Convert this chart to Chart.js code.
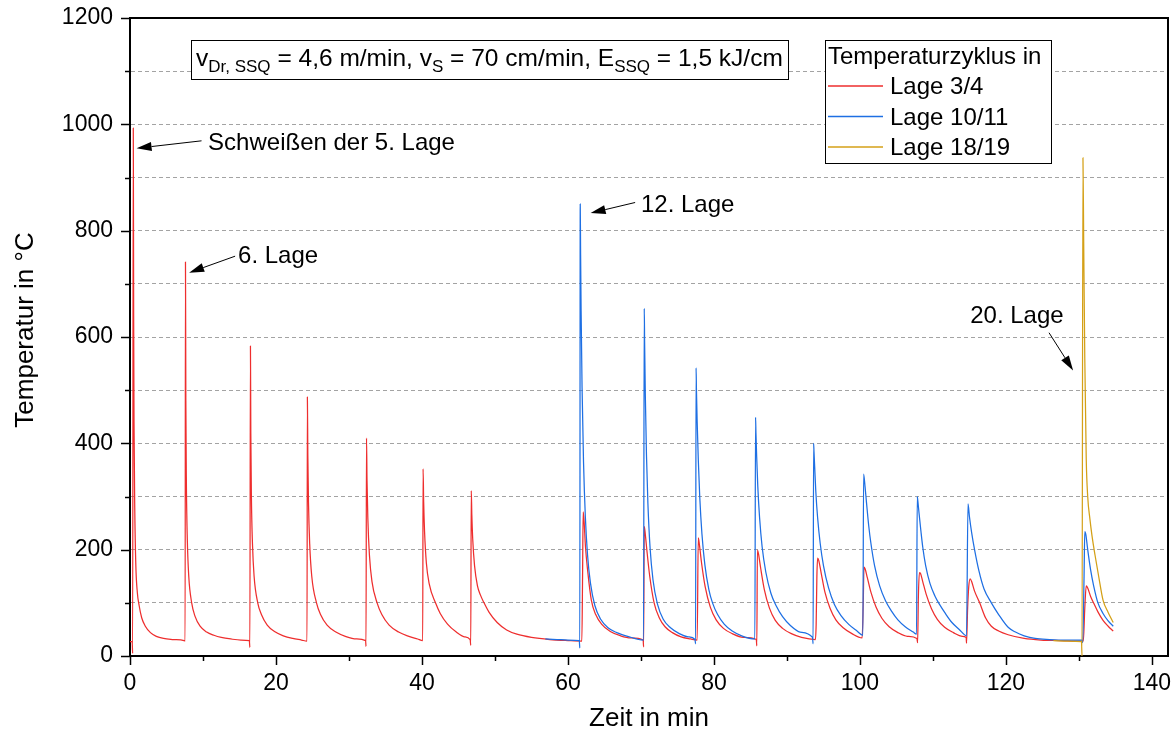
<!DOCTYPE html>
<html>
<head>
<meta charset="utf-8">
<script src="https://cdn.jsdelivr.net/npm/chart.js@4.4.1/dist/chart.umd.min.js"></script>
<style>
  body { margin: 0; background: #fff; }
  canvas { display: block; }
</style>
</head>
<body>
<canvas id="myChart" width="1175" height="740"></canvas>
<script>
const FONT = "'Liberation Sans', Arial, sans-serif";

// Lage 3/4 (rot)
const redTime = [0, 0.3, 0.36, 0.45, 0.5, 0.55, 0.65, 0.8, 1.0, 1.25, 1.6, 2.1, 2.8, 3.6, 4.6, 5.8, 7.4,
  7.55, 7.6, 7.65, 7.72, 7.85, 8.05, 8.45, 8.9, 9.6, 10.5, 11.5, 12.5, 13.8, 15.2, 16.35, 16.42,
  16.5, 16.55, 16.63, 16.78, 17.0, 17.5, 18.0, 18.8, 19.8, 21.0, 22.3, 23.5, 24.25,
  24.3, 24.36, 24.45, 24.62, 24.9, 25.55, 26.1, 27.0, 28.2, 29.5, 31.0, 32.28, 32.33,
  32.4, 32.47, 32.58, 32.8, 33.15, 33.85, 34.5, 35.5, 36.8, 38.2, 39.4, 40.1,
  40.15, 40.23, 40.35, 40.6, 41.0, 41.85, 42.5, 43.5, 44.7, 45.8, 46.6, 46.68,
  46.75, 46.83, 46.95, 47.2, 47.6, 48.0, 48.5, 49.2, 50.3, 51.6, 53.0, 55.0, 57.5, 60.0, 61.9,
  62.0, 62.08, 62.2, 62.4, 62.7, 63.2, 63.8, 64.6, 65.8, 67.2, 68.6, 70.3, 70.36,
  70.45, 70.6, 70.8, 71.2, 71.8, 72.5, 73.3, 74.3, 75.5, 76.8, 77.7,
  77.85, 78.0, 78.3, 78.8, 79.5, 80.3, 81.3, 82.5, 84.0, 85.8, 85.87,
  85.95, 86.1, 86.4, 86.9, 87.6, 88.4, 89.4, 90.6, 92.0, 93.9,
  94.0, 94.1, 94.2, 94.35, 94.7, 95.2, 95.9, 96.7, 97.7, 98.9, 100.3,
  100.45, 100.55, 100.7, 101.0, 101.5, 102.2, 103.0, 104.0, 105.2, 106.5, 107.8, 107.9,
  108.0, 108.15, 108.3, 108.6, 109.1, 109.8, 110.6, 111.6, 112.8, 114.0, 114.55, 114.6,
  114.75, 114.9, 115.1, 115.3, 115.7, 116.4, 117.2, 118.0, 119.0, 120.3, 122.5, 124.8, 127.5, 130.5,
  130.6, 130.8, 131.0, 131.2, 131.6, 132.0, 132.6, 133.3, 134.0, 134.7];
const redTemp = [27, 27, 5, 993, 640, 440, 280, 170, 120, 95, 72, 56, 44, 37, 33, 31, 29,
  28, 741, 480, 330, 220, 150, 100, 75, 56, 45, 39, 35, 32, 30, 29, 16,
  583, 420, 300, 210, 150, 100, 78, 58, 46, 38, 33, 30, 28,
  487, 380, 290, 210, 150, 100, 78, 58, 45, 37, 32, 29, 18,
  410, 330, 260, 190, 140, 100, 78, 58, 45, 37, 32, 29,
  352, 290, 235, 175, 135, 100, 80, 60, 45, 36, 31, 20,
  311, 265, 220, 170, 132, 115, 100, 82, 63, 49, 41, 35, 31, 29, 28,
  150, 271, 255, 205, 160, 105, 78, 60, 46, 38, 34, 30, 17,
  244, 228, 200, 150, 100, 72, 55, 44, 36, 32, 30,
  222, 210, 175, 130, 92, 68, 52, 42, 35, 31, 19,
  199, 192, 165, 125, 90, 67, 52, 42, 35, 31,
  60, 150, 184, 180, 155, 120, 90, 68, 53, 42, 34,
  100, 167, 164, 148, 120, 92, 71, 55, 44, 37, 33, 25,
  110, 157, 155, 140, 115, 89, 69, 54, 44, 37, 35, 24,
  90, 130, 145, 140, 122, 100, 72, 56, 47, 40, 33, 30, 29, 28,
  28, 90, 132, 128, 112, 100, 83, 67, 56, 47];

// Lage 10/11 (blau)
const blueTime = [56.9, 58.5, 60.0, 61.55, 61.62,
  61.68, 61.73, 61.8, 61.93, 62.13, 62.38, 62.68, 63.08, 63.68, 64.48, 65.48, 66.68, 68.18, 70.35,
  70.45, 70.5, 70.6, 70.75, 70.95, 71.25, 71.65, 72.25, 73.05, 74.05, 75.25, 76.45, 77.4, 77.48,
  77.55, 77.6, 77.7, 77.85, 78.05, 78.35, 78.75, 79.3, 79.8, 80.5, 81.4, 82.5, 83.8, 85.6,
  85.7, 85.75, 85.85, 86.0, 86.25, 86.6, 87.1, 87.8, 88.5, 89.4, 90.5, 91.8, 93.5, 93.58,
  93.65, 93.7, 93.8, 93.95, 94.2, 94.55, 95.0, 95.7, 96.5, 97.4, 98.5, 99.6, 100.4,
  100.5, 100.7, 100.9, 101.2, 101.5, 102.0, 102.7, 103.5, 104.3, 105.2, 106.2, 107.3, 107.75,
  107.85, 107.9, 108.1, 108.35, 108.6, 109.0, 109.6, 110.3, 110.9, 111.7, 112.6, 113.6, 114.6,
  114.8, 115.0, 115.3, 115.7, 116.3, 117.0, 118.0, 119.0, 120.3, 121.3, 122.5, 124.0, 126.0, 128.0, 130.4,
  130.52, 130.7, 130.8, 130.95, 131.2, 131.6, 132.0, 132.6, 133.3, 134.0, 134.7];
const blueTemp = [32, 31, 30, 29, 15,
  850, 756, 649, 505, 365, 262, 190, 137, 95, 69, 53, 44, 37, 30,
  654, 590, 488, 380, 287, 203, 143, 98, 69, 53, 42, 36, 31, 23,
  542, 500, 440, 370, 300, 230, 172, 125, 100, 78, 60, 47, 38, 32,
  449, 420, 375, 320, 260, 205, 158, 118, 95, 74, 57, 45, 35, 23,
  400, 385, 355, 310, 260, 212, 170, 128, 97, 76, 59, 47, 39,
  342, 318, 288, 245, 212, 170, 132, 104, 85, 68, 55, 45, 41,
  300, 295, 268, 235, 205, 170, 136, 112, 97, 80, 63, 50, 38,
  286, 262, 232, 200, 160, 126, 100, 78, 54, 45, 38, 33, 31, 30, 30,
  25, 150, 234, 228, 200, 162, 133, 100, 80, 66, 56];

// Lage 18/19 (gelb)
const goldTime = [126.5, 128.5, 130.35, 130.42, 130.55, 130.65, 130.8, 131.0, 131.2, 131.5, 131.8, 132.2, 132.7, 133.3, 134.0, 134.7];
const goldTemp = [29, 28, 27, 0, 937, 780, 560, 370, 300, 258, 225, 190, 150, 105, 82, 63];

const seriesLabels = ['Lage 3/4', 'Lage 10/11', 'Lage 18/19'];
const seriesColors = ['#ee2e2e', '#1e6fe3', '#d4a017'];
const legendTitle = 'Temperaturzyklus in';

// Achsen
const xMax = 142.2;
const xMajorStep = 20, xMinorStep = 10;
const yMax = 1200;
const yMajorStep = 200, yMinorStep = 100;

// Beschriftungen mit Pfeil (Textanker und Pfeil in Datenkoordinaten)
const annoText = ['Schweißen der 5. Lage', '6. Lage', '12. Lage', '20. Lage'];
const annoTextAt = [[10.7, 952], [14.8, 739], [70.0, 836], [115.1, 626]];
const annoArrowFrom = [[9.8, 969], [14.4, 752], [69.2, 853], [125.9, 608]];
const annoArrowTo = [[0.9, 955], [8.1, 721], [63.1, 833], [129.2, 537]];

// Parameter-Box: [Text, tiefgestellt]
const paramParts = [['v', false], ['Dr, SSQ', true], [' = 4,6 m/min, v', false], ['S', true],
  [' = 70 cm/min, E', false], ['SSQ', true], [' = 1,5 kJ/cm', false]];

function toPoints(times, temps) {
    return times.map((t, i) => ({ x: t, y: temps[i] }));
}

function drawArrow(c, x1, y1, x2, y2) {
    const ang = Math.atan2(y2 - y1, x2 - x1);
    const hl = 15, hw = 4.5;
    const bx = x2 - hl * Math.cos(ang), by = y2 - hl * Math.sin(ang);
    c.beginPath();
    c.moveTo(x1, y1);
    c.lineTo(bx, by);
    c.stroke();
    c.beginPath();
    c.moveTo(x2, y2);
    c.lineTo(bx + hw * Math.sin(ang), by - hw * Math.cos(ang));
    c.lineTo(bx - hw * Math.sin(ang), by + hw * Math.cos(ang));
    c.closePath();
    c.fill();
}

// Rahmen, Teilstriche, Pfeile, Parameter-Box und Legende
const extrasPlugin = {
    id: 'extras',
    afterDraw(chart) {
        const c = chart.ctx;
        const xs = chart.scales.x, ys = chart.scales.y;
        const a = chart.chartArea;
        c.save();
        c.strokeStyle = '#000';
        c.fillStyle = '#000';

        // oberer und rechter Rahmen
        c.lineWidth = 2;
        c.beginPath();
        c.moveTo(a.left, a.top);
        c.lineTo(a.right, a.top);
        c.lineTo(a.right, a.bottom);
        c.stroke();

        // Teilstriche
        c.lineWidth = 1.5;
        for (let v = 0; v <= yMax; v += yMinorStep) {
            const py = Math.round(ys.getPixelForValue(v)) + 0.5;
            const len = v % yMajorStep === 0 ? 9 : 5;
            c.beginPath();
            c.moveTo(a.left - len, py);
            c.lineTo(a.left, py);
            c.stroke();
        }
        for (let v = 0; v <= 140; v += xMinorStep) {
            const px = Math.round(xs.getPixelForValue(v)) + 0.5;
            const len = v % xMajorStep === 0 ? 9 : 5;
            c.beginPath();
            c.moveTo(px, a.bottom);
            c.lineTo(px, a.bottom + len);
            c.stroke();
        }

        // Pfeile mit Text
        c.lineWidth = 1;
        c.font = '24px ' + FONT;
        c.textBaseline = 'alphabetic';
        c.textAlign = 'left';
        annoText.forEach((txt, i) => {
            c.fillText(txt, xs.getPixelForValue(annoTextAt[i][0]), ys.getPixelForValue(annoTextAt[i][1]));
            drawArrow(c,
                xs.getPixelForValue(annoArrowFrom[i][0]), ys.getPixelForValue(annoArrowFrom[i][1]),
                xs.getPixelForValue(annoArrowTo[i][0]), ys.getPixelForValue(annoArrowTo[i][1]));
        });

        // Parameter-Box
        const bx = a.left + 61, by = a.top + 22, bw = 597, bh = 39;
        c.fillStyle = '#fff';
        c.fillRect(bx, by, bw, bh);
        c.strokeStyle = '#000';
        c.lineWidth = 1;
        c.strokeRect(bx + 0.5, by + 0.5, bw, bh);
        c.fillStyle = '#000';
        let tx = bx + 5;
        paramParts.forEach(([txt, sub]) => {
            c.font = (sub ? '17px ' : '24.5px ') + FONT;
            c.fillText(txt, tx, by + (sub ? 32 : 26));
            tx += c.measureText(txt).width;
        });

        // Legende
        const lx = a.left + 695, ly = a.top + 22, lw = 226, lh = 123;
        c.fillStyle = '#fff';
        c.fillRect(lx, ly, lw, lh);
        c.strokeRect(lx + 0.5, ly + 0.5, lw, lh);
        c.fillStyle = '#000';
        c.font = '24px ' + FONT;
        c.fillText(legendTitle, lx + 3, ly + 24);
        chart.data.datasets.forEach((ds, i) => {
            const yy = ly + 46 + i * 30.5;
            c.strokeStyle = ds.borderColor;
            c.lineWidth = 1.3;
            c.beginPath();
            c.moveTo(lx + 3, yy);
            c.lineTo(lx + 58, yy);
            c.stroke();
            c.fillStyle = '#000';
            c.fillText(ds.label, lx + 65, yy + 8);
        });

        // y-Achsentitel
        c.save();
        c.translate(26, (a.top + a.bottom) / 2 - 7);
        c.rotate(-Math.PI / 2);
        c.font = '26px ' + FONT;
        c.textAlign = 'center';
        c.textBaseline = 'middle';
        c.fillText('Temperatur in °C', 0, 0);
        c.restore();

        c.restore();
    }
};

const ctx = document.getElementById('myChart').getContext('2d');
const lineStyle = {
    showLine: true, pointRadius: 0, borderWidth: 1.25, fill: false,
    cubicInterpolationMode: 'monotone'
};

const myChart = new Chart(ctx, {
    type: 'scatter',
    data: {
        datasets: [
            { ...lineStyle, label: seriesLabels[0], data: toPoints(redTime, redTemp), borderColor: seriesColors[0], order: 3 },
            { ...lineStyle, label: seriesLabels[1], data: toPoints(blueTime, blueTemp), borderColor: seriesColors[1], order: 2 },
            { ...lineStyle, label: seriesLabels[2], data: toPoints(goldTime, goldTemp), borderColor: seriesColors[2], order: 1 }
        ]
    },
    options: {
        responsive: false,
        animation: false,
        layout: { padding: { top: 18, right: 7, left: 0, bottom: 0 } },
        plugins: {
            legend: { display: false },
            tooltip: { enabled: false }
        },
        scales: {
            x: {
                type: 'linear',
                min: 0,
                max: xMax,
                afterFit(scale) {
                    scale.height = 84;
                    scale.paddingLeft = 0;
                    scale.paddingRight = 0;
                },
                ticks: {
                    stepSize: xMajorStep, includeBounds: false, autoSkip: false, maxRotation: 0,
                    padding: 14, color: '#000', font: { family: FONT, size: 23 }
                },
                grid: { drawOnChartArea: false, drawTicks: false },
                border: { display: true, color: '#000', width: 2 },
                title: {
                    display: true, text: 'Zeit in min', color: '#000',
                    font: { family: FONT, size: 26 }, padding: { top: 0, bottom: 6 }
                }
            },
            y: {
                min: 0,
                max: yMax,
                afterFit(scale) {
                    scale.width = 130;
                    scale.paddingTop = 0;
                    scale.paddingBottom = 0;
                },
                ticks: {
                    stepSize: yMinorStep, autoSkip: false, padding: 17, color: '#000',
                    font: { family: FONT, size: 23 },
                    callback: v => (v % yMajorStep === 0 ? v : '')
                },
                grid: { color: '#a3a3a3', lineWidth: 1, drawTicks: false },
                border: { display: true, color: '#000', width: 2, dash: [4, 3] },
                title: { display: false }
            }
        }
    },
    plugins: [extrasPlugin]
});
</script>
</body>
</html>
